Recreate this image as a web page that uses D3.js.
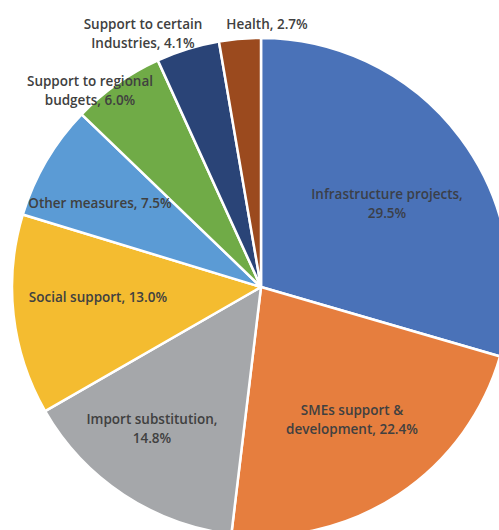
<!DOCTYPE html>
<html>
<head>
<meta charset="utf-8">
<script src="https://cdn.jsdelivr.net/npm/d3@7"></script>
<style>
  body { margin: 0; background: #fff; }
  svg { display: block; }
</style>
</head>
<body>
<svg id="drawing_region"></svg>
<script>
// data, clockwise from 12 o'clock
const categories = ["Infrastructure projects", "SMEs support & development", "Import substitution",
    "Social support", "Other measures", "Support to regional budgets",
    "Support to certain industries", "Health"];
const shares = [29.5, 22.4, 14.8, 13.0, 7.5, 6.0, 4.1, 2.7];
const labelLines = [
    ["Infrastructure projects,", "29.5%"],
    ["SMEs support &", "development, 22.4%"],
    ["Import substitution,", "14.8%"],
    ["Social support, 13.0%"],
    ["Other measures, 7.5%"],
    ["Support to regional", "budgets, 6.0%"],
    ["Support to certain", "Industries, 4.1%"],
    ["Health, 2.7%"]
];

const colors = ["#4a72b8", "#e67e3e", "#a5a7aa", "#f4bc30", "#5b9bd5", "#70ab47", "#2a4477", "#9b4a1e"];
// label anchor (center of first line) in page px
const labelPos = [[387, 194], [352, 410], [152, 419], [98, 297], [100, 203], [90, 81], [143, 24], [267, 24]];

const config = { width: 499, height: 530, cx: 261, cy: 287, radius: 249 };

const svg = d3.select('#drawing_region')
    .attr('width', config.width)
    .attr('height', config.height);

const data = categories.map((c, i) => ({ name: c, value: shares[i], lines: labelLines[i] }));

const pie = d3.pie()
    .value(d => d.value)
    .sort(null);

const arc = d3.arc()
    .innerRadius(0)
    .outerRadius(config.radius);

const chart = svg.append('g')
    .attr('transform', `translate(${config.cx}, ${config.cy})`);

chart.selectAll('path')
    .data(pie(data))
    .join('path')
    .attr('d', arc)
    .attr('fill', (d, i) => colors[i])
    .attr('stroke', '#fff')
    .attr('stroke-width', 2.5)
    .attr('stroke-linejoin', 'round');

// labels
const labels = svg.selectAll('text.lbl')
    .data(data)
    .join('text')
    .attr('class', 'lbl')
    .attr('text-anchor', 'middle')
    .attr('font-family', '"Open Sans", sans-serif')
    .attr('font-size', 13.5)
    .attr('font-weight', 600)
    .attr('fill', (d, i) => i === 0 ? '#3b3f48' : '#404040')
    .attr('transform', (d, i) => `translate(${labelPos[i][0]}, ${labelPos[i][1]})`);

labels.selectAll('tspan')
    .data(d => d.lines)
    .join('tspan')
    .attr('x', 0)
    .attr('y', (d, j) => j * 19)
    .attr('dy', '0.35em')
    .text(d => d);
</script>
</body>
</html>
